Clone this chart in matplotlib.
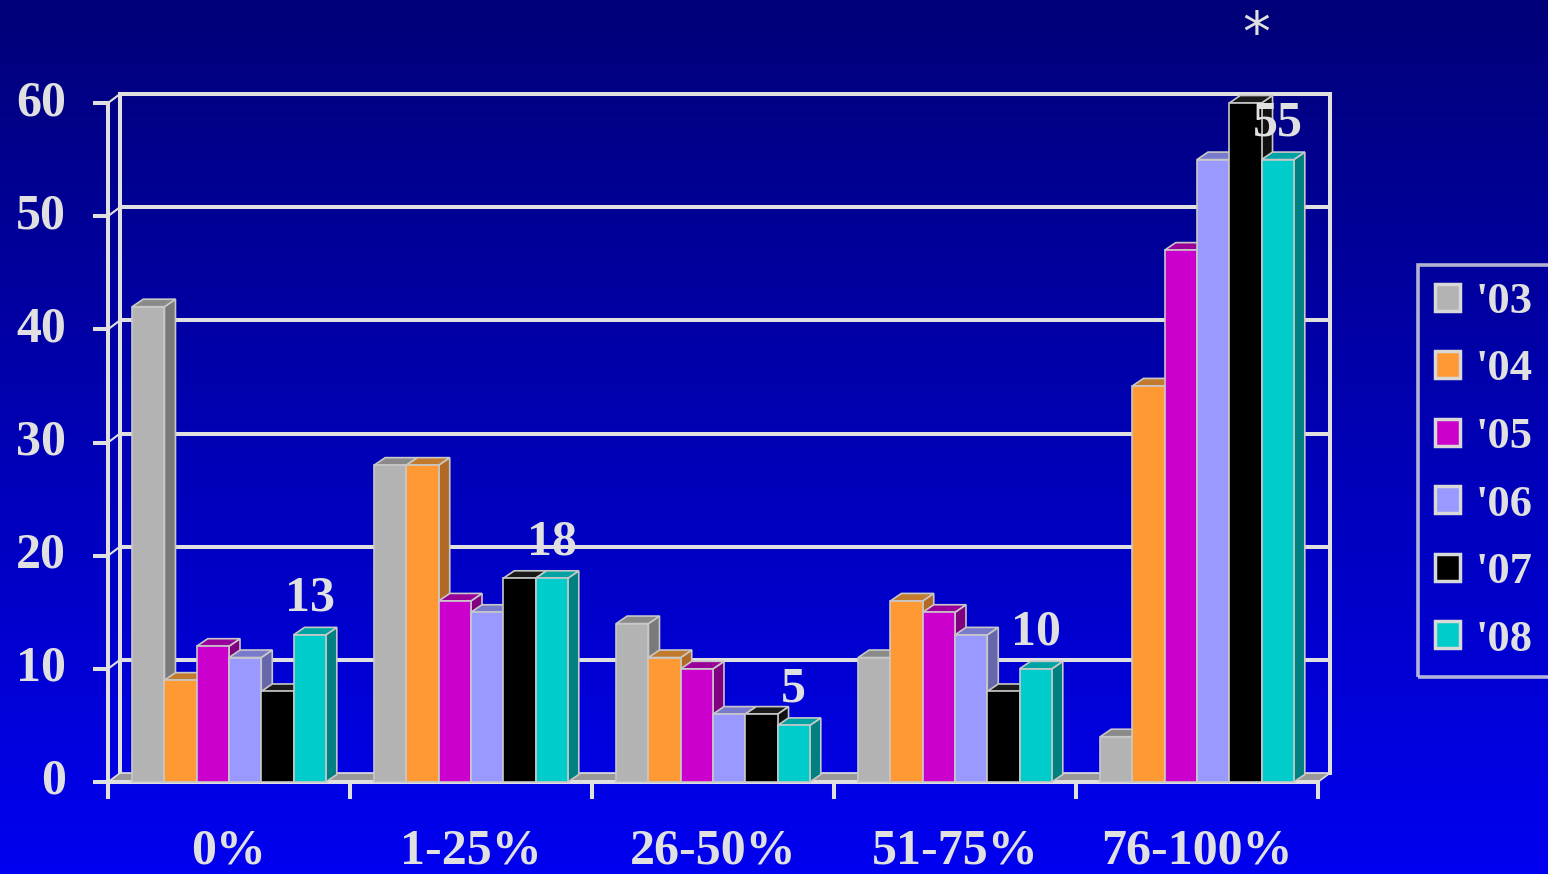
import numpy as np
import matplotlib
matplotlib.use("Agg")
import matplotlib.pyplot as plt
from matplotlib.patches import Patch

# data
categories = ["0%", "1-25%", "26-50%", "51-75%", "76-100%"]
years = ["'03", "'04", "'05", "'06", "'07", "'08"]
v03 = [42, 28, 14, 11, 4]
v04 = [9, 28, 11, 16, 35]
v05 = [12, 16, 10, 15, 47]
v06 = [11, 15, 6, 13, 55]
v07 = [8, 18, 6, 8, 60]
v08 = [13, 18, 5, 10, 55]
series = [v03, v04, v05, v06, v07, v08]
yticks = [0, 10, 20, 30, 40, 50, 60]
# labels written above the '08 bars, plus the star over 76-100%
callouts = v08
star_cat = 4

front = ["#b3b3b3", "#ff9933", "#cc00cc", "#9999ff", "#000000", "#00cccc"]
top = ["#8a8a8a", "#c27a2e", "#990099", "#7a7acc", "#1a1a1a", "#00a3a3"]
side = ["#7a7a7a", "#b06a25", "#800080", "#6666aa", "#111111", "#008080"]
light = "#e0e0e0"

W, H = 1548, 874
fig = plt.figure(figsize=(W / 100, H / 100), dpi=100)

# background gradient navy -> bright blue
bg = fig.add_axes([0, 0, 1, 1])
grad = np.linspace(0, 1, 256)
cols = np.zeros((256, 1, 3))
cols[:, 0, 2] = (0x78 + (0xF0 - 0x78) * grad) / 255
bg.imshow(cols, aspect="auto", extent=[0, 1, 0, 1], origin="upper")
bg.axis("off")

x0_px, x1_px, y0_px, y60_px = 108, 1318, 782, 103
ax = fig.add_axes([x0_px / W, 1 - y0_px / H, (x1_px - x0_px) / W, (y0_px - y60_px) / H])
ax.set_xlim(-0.5, 4.5)
ax.set_ylim(0, 60)
ax.axis("off")
ax.patch.set_alpha(0)

pxx = (x1_px - x0_px) / 5.0      # px per x unit
pxy = (y0_px - y60_px) / 60.0    # px per y unit
wdx, wdy = 12 / pxx, 9 / pxy     # wall depth
bdx, bdy = 11 / pxx, 7.5 / pxy   # bar depth
lw = 2.9

# back wall gridlines and verticals
for v in yticks[1:]:
    ax.plot([-0.5 + wdx, 4.5 + wdx], [v + wdy, v + wdy], color=light, lw=lw, zorder=1, clip_on=False)
    ax.plot([-0.5, -0.5 + wdx], [v, v + wdy], color=light, lw=1.5, zorder=1, clip_on=False)
    ax.plot([-0.5 - 13 / pxx, -0.5], [v, v], color=light, lw=lw, zorder=1, clip_on=False)
ax.plot([-0.5 - 13 / pxx, -0.5], [0, 0], color=light, lw=lw, zorder=1, clip_on=False)
ax.plot([-0.5 + wdx] * 2, [wdy, 60 + wdy], color=light, lw=lw, zorder=1, clip_on=False)
ax.plot([4.5 + wdx] * 2, [wdy, 60 + wdy], color=light, lw=lw, zorder=1, clip_on=False)
ax.plot([-0.5, -0.5], [-15 / pxy, 60], color=light, lw=lw, zorder=1, clip_on=False)

# floor
ax.fill([-0.5, 4.5, 4.5 + wdx, -0.5 + wdx], [0, 0, wdy, wdy], facecolor="#999999",
        edgecolor=light, lw=1.2, zorder=2, clip_on=False)
ax.plot([-0.5, 4.5], [0, 0], color=light, lw=lw, zorder=2, clip_on=False)
for k in range(len(categories) + 1):
    ax.plot([k - 0.5] * 2, [0, -15 / pxy], color=light, lw=lw, zorder=2, clip_on=False)

# bars
bw = 0.8 / len(series)
x = np.arange(len(categories))
for i, vals in enumerate(series):
    xs = x - 0.4 + i * bw
    z = 3 + i * 0.1
    for xl, v in zip(xs, vals):
        xr = xl + bw
        ax.fill([xr, xr + bdx, xr + bdx, xr], [0, bdy, v + bdy, v], facecolor=side[i],
                edgecolor="#c8c8c8", lw=1.2, zorder=z, clip_on=False)
        ax.fill([xl, xr, xr + bdx, xl + bdx], [v, v, v + bdy, v + bdy], facecolor=top[i],
                edgecolor="#c8c8c8", lw=1.2, zorder=z, clip_on=False)
    ax.bar(xs, vals, width=bw, align="edge", color=front[i], edgecolor="#c8c8c8",
           lw=1.2, zorder=z + 0.05, clip_on=False)

font = dict(family="Liberation Serif", weight="bold", color=light)
fs = 36

# callout values over the '08 bars
for k, v in enumerate(callouts):
    xc = k - 0.4 + 5 * bw + bw / 2
    ax.text(xc, v + bdy + 0.5, str(v), ha="center", va="bottom", fontsize=fs, zorder=10, **font)
ax.text(star_cat - 0.4 + 4 * bw + bw / 2 + 0.045, 60 + 5.9, "*", ha="center", va="center",
        fontsize=40, color=light, family="DejaVu Sans", zorder=10, clip_on=False)

# axis labels
for v in yticks:
    ax.text(-0.5 - 42 / pxx, v, str(v), ha="right", va="center", fontsize=fs, **font)
for k, c in enumerate(categories):
    ax.text(k, -70 / pxy, c, ha="center", va="center", fontsize=fs, **font)

handles = [Patch(facecolor=front[i], edgecolor="#d8d8d8", lw=2.5) for i in range(len(years))]
leg = fig.legend(handles, years, loc="upper left", bbox_to_anchor=(1418 / W, 1 - 265 / H),
                 borderaxespad=0, frameon=True, fancybox=False, handlelength=0.56,
                 handleheight=0.56, handletextpad=0.35, labelspacing=0.62, borderpad=0.38,
                 prop=dict(family="Liberation Serif", weight="bold", size=32))
leg.get_frame().set_facecolor("none")
leg.get_frame().set_edgecolor(light)
leg.get_frame().set_linewidth(2.6)
for t in leg.get_texts():
    t.set_color(light)

fig.savefig("out.png", dpi=100)
